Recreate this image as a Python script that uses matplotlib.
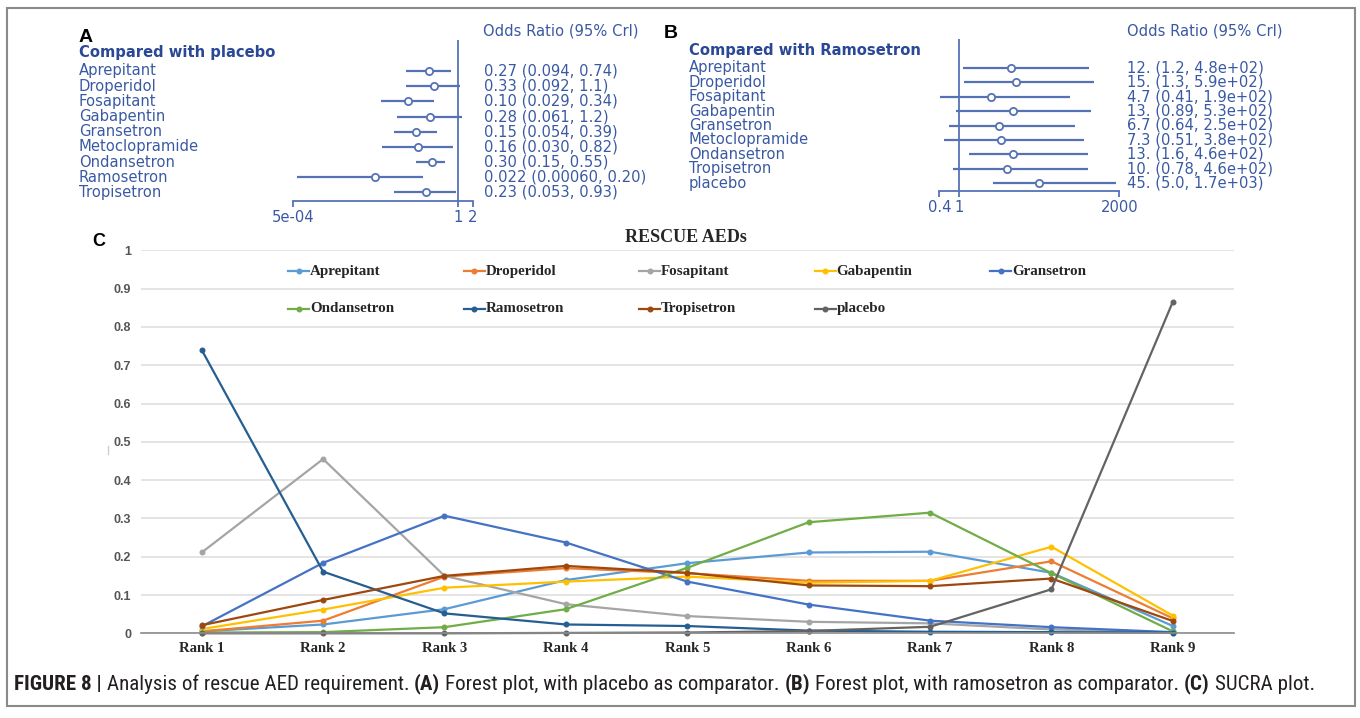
import matplotlib
matplotlib.use("Agg")
import numpy as np
import matplotlib.pyplot as plt
from matplotlib import font_manager
from matplotlib.font_manager import FontProperties
from matplotlib.lines import Line2D
from matplotlib.patches import Rectangle
from matplotlib.ticker import FixedLocator, NullLocator, FixedFormatter
from matplotlib.transforms import blended_transform_factory

W, H = 1360, 718

# ---------------- data: forest plot vs placebo ----------------
placebo_names = ["Aprepitant", "Droperidol", "Fosapitant", "Gabapentin", "Gransetron",
                 "Metoclopramide", "Ondansetron", "Ramosetron", "Tropisetron"]
placebo_or = [0.27, 0.33, 0.10, 0.28, 0.15, 0.16, 0.30, 0.022, 0.23]
placebo_lo = [0.094, 0.092, 0.029, 0.061, 0.054, 0.030, 0.15, 0.00060, 0.053]
placebo_hi = [0.74, 1.1, 0.34, 1.2, 0.39, 0.82, 0.55, 0.20, 0.93]
placebo_text = ["0.27 (0.094, 0.74)", "0.33 (0.092, 1.1)", "0.10 (0.029, 0.34)",
                "0.28 (0.061, 1.2)", "0.15 (0.054, 0.39)", "0.16 (0.030, 0.82)",
                "0.30 (0.15, 0.55)", "0.022 (0.00060, 0.20)", "0.23 (0.053, 0.93)"]
placebo_ticks = [5e-4, 1, 2]
placebo_ticklabels = ["5e-04", "1", "2"]

# ---------------- data: forest plot vs ramosetron ----------------
ramo_names = ["Aprepitant", "Droperidol", "Fosapitant", "Gabapentin", "Gransetron",
              "Metoclopramide", "Ondansetron", "Tropisetron", "placebo"]
ramo_or = [12, 15, 4.7, 13, 6.7, 7.3, 13, 10, 45]
ramo_lo = [1.2, 1.3, 0.41, 0.89, 0.64, 0.51, 1.6, 0.78, 5.0]
ramo_hi = [480, 590, 190, 530, 250, 380, 460, 460, 1700]
ramo_text = ["12. (1.2, 4.8e+02)", "15. (1.3, 5.9e+02)", "4.7 (0.41, 1.9e+02)",
             "13. (0.89, 5.3e+02)", "6.7 (0.64, 2.5e+02)", "7.3 (0.51, 3.8e+02)",
             "13. (1.6, 4.6e+02)", "10. (0.78, 4.6e+02)", "45. (5.0, 1.7e+03)"]
ramo_ticks = [0.4, 1, 2000]
ramo_ticklabels = ["0.4", "1", "2000"]

# ---------------- data: rank probabilities ----------------
ranks = ["Rank 1", "Rank 2", "Rank 3", "Rank 4", "Rank 5", "Rank 6", "Rank 7", "Rank 8", "Rank 9"]
aprepitant = [0.005, 0.023, 0.063, 0.139, 0.183, 0.211, 0.213, 0.158, 0.019]
droperidol = [0.005, 0.033, 0.148, 0.170, 0.157, 0.137, 0.137, 0.188, 0.039]
fosapitant = [0.211, 0.455, 0.150, 0.076, 0.045, 0.030, 0.026, 0.010, 0.002]
gabapentin = [0.011, 0.062, 0.119, 0.135, 0.148, 0.132, 0.137, 0.226, 0.046]
gransetron = [0.018, 0.184, 0.307, 0.237, 0.135, 0.075, 0.033, 0.016, 0.003]
ondansetron = [0.002, 0.003, 0.016, 0.063, 0.171, 0.290, 0.315, 0.157, 0.005]
ramosetron = [0.740, 0.161, 0.052, 0.023, 0.019, 0.007, 0.004, 0.003, 0.002]
tropisetron = [0.021, 0.087, 0.150, 0.176, 0.158, 0.125, 0.123, 0.143, 0.032]
placebo = [0.000, 0.000, 0.000, 0.001, 0.002, 0.006, 0.017, 0.115, 0.866]
series_names = ["Aprepitant", "Droperidol", "Fosapitant", "Gabapentin", "Gransetron",
                "Ondansetron", "Ramosetron", "Tropisetron", "placebo"]
series_values = [aprepitant, droperidol, fosapitant, gabapentin, gransetron,
                 ondansetron, ramosetron, tropisetron, placebo]
series_colors = ["#5B9BD5", "#ED7D31", "#A5A5A5", "#FFC000", "#4472C4",
                 "#70AD47", "#255E91", "#9E480E", "#636363"]
yticks = [0, 0.1, 0.2, 0.3, 0.4, 0.5, 0.6, 0.7, 0.8, 0.9, 1.0]
yticklabels = ["0", "0.1", "0.2", "0.3", "0.4", "0.5", "0.6", "0.7", "0.8", "0.9", "1"]

caption_parts = [("FIGURE 8 |", "bold"), ("Analysis of rescue AED requirement.", "normal"),
                 ("(A)", "bold"), ("Forest plot, with placebo as comparator.", "normal"),
                 ("(B)", "bold"), ("Forest plot, with ramosetron as comparator.", "normal"),
                 ("(C)", "bold"), ("SUCRA plot.", "normal")]

# ---------------- fonts ----------------
SERIF = "Liberation Serif"
SANS = "Liberation Sans"
FOREST_FONT = "DejaVu Sans"


def narrow_caption_fonts():
    """Regular and bold FontProperties for a condensed sans face, if one is installed."""
    entries = font_manager.fontManager.ttflist

    def is_narrow(e):
        key = (e.name + " " + e.fname).lower()
        return ("narrow" in key or "condensed" in key or "cond" in str(e.stretch).lower())

    def wnum(e):
        w = e.weight
        if isinstance(w, str):
            return {"bold": 700, "normal": 400, "regular": 400}.get(w.lower(), 400)
        return w

    prefs = ["liberation sans narrow", "roboto condensed", "open sans condensed",
             "noto sans", "dejavu sans", "open sans", "roboto", "liberation sans"]
    for pref in prefs:
        cands = [e for e in entries if pref.split()[0] in e.name.lower()
                 and is_narrow(e) and e.style == "normal"]
        reg = [e for e in cands if 350 <= wnum(e) <= 450]
        bld = [e for e in cands if 650 <= wnum(e) <= 750]
        if reg and bld:
            return FontProperties(fname=reg[0].fname), FontProperties(fname=bld[0].fname)
    return FontProperties(family=SANS), FontProperties(family=SANS, weight="bold")


CAP_REG, CAP_BOLD = narrow_caption_fonts()

TXT = "#3a59a3"
HEAD = "#2a4896"
LINE = "#5672b6"

fig = plt.figure(figsize=(W / 100, H / 100), dpi=100)
fig.patch.set_facecolor("white")


def fx(px):
    return px / W


def fy(py):
    return 1 - py / H


def axes_px(x0, y0, x1, y1):
    return fig.add_axes([fx(x0), fy(y1), (x1 - x0) / W, (y1 - y0) / H])


def forest(x0, x1, ytop, ybot, row0, step, xlim, ticks, ticklabels,
           names, est, lo, hi, texts, name_x, val_x):
    ax = axes_px(x0, ytop, x1, ybot)
    ax.set_xscale("log")
    ax.set_xlim(*xlim)
    ax.set_ylim((ybot - row0) / step, (ytop - row0) / step)
    ax.patch.set_alpha(0)
    for s in ["left", "right", "top"]:
        ax.spines[s].set_visible(False)
    ax.spines["bottom"].set_color(LINE)
    ax.spines["bottom"].set_linewidth(1.3)
    ax.set_yticks([])
    ax.xaxis.set_major_locator(FixedLocator(ticks))
    ax.xaxis.set_minor_locator(NullLocator())
    ax.xaxis.set_major_formatter(FixedFormatter(ticklabels))
    ax.tick_params(axis="x", direction="out", length=4.5, width=1.3, color=LINE,
                   labelcolor=TXT, labelsize=10.6, pad=2)
    for lab in ax.get_xticklabels():
        lab.set_family(FOREST_FONT)
    rows = np.arange(len(names))
    ax.axvline(1, color=LINE, lw=1.3, zorder=1)
    ax.hlines(rows, lo, hi, color=LINE, lw=1.6, zorder=2)
    ax.plot(est, rows, "o", ms=5.2, mfc="white", mec=LINE, mew=1.3, zorder=3)
    tr = blended_transform_factory(fig.transFigure, ax.transData)
    for i, (nm, tx) in enumerate(zip(names, texts)):
        ax.text(fx(name_x), i, nm, transform=tr, ha="left", va="center",
                fontsize=10.6, color=TXT, family=FOREST_FONT)
        ax.text(fx(val_x), i, tx, transform=tr, ha="left", va="center",
                fontsize=10.6, color=TXT, family=FOREST_FONT)
    return ax


# ---------------- panel A ----------------
forest(292.7, 472.7, 40, 200.7, 71, 15.17, (5e-4, 2), placebo_ticks, placebo_ticklabels,
       placebo_names, placebo_or, placebo_lo, placebo_hi, placebo_text, 79, 484)
fig.text(fx(79), fy(52), "Compared with placebo", ha="left", va="center",
         fontsize=10.6, fontweight="bold", color=HEAD, family=FOREST_FONT)
fig.text(fx(483), fy(31.5), "Odds Ratio (95% Crl)", ha="left", va="center",
         fontsize=10.6, color=TXT, family=FOREST_FONT)
fig.text(fx(79), fy(37), "A", ha="left", va="center", fontsize=14,
         fontweight="bold", color="black", family=SANS)

# ---------------- panel B ----------------
forest(939.3, 1119.3, 39, 191, 67.7, 14.45, (0.4, 2000), ramo_ticks, ramo_ticklabels,
       ramo_names, ramo_or, ramo_lo, ramo_hi, ramo_text, 689, 1127)
fig.text(fx(689), fy(50), "Compared with Ramosetron", ha="left", va="center",
         fontsize=10.6, fontweight="bold", color=HEAD, family=FOREST_FONT)
fig.text(fx(1127), fy(31.5), "Odds Ratio (95% Crl)", ha="left", va="center",
         fontsize=10.6, color=TXT, family=FOREST_FONT)
fig.text(fx(664), fy(34), "B", ha="left", va="center", fontsize=14,
         fontweight="bold", color="black", family=SANS)

# ---------------- panel C: rank probability lines ----------------
axc = axes_px(141, 250.3, 1233.6, 633.3)
x = np.arange(1, len(ranks) + 1)
axc.set_xlim(0.5, len(ranks) + 0.5)
axc.set_ylim(0, 1)
for s in ["left", "right", "top"]:
    axc.spines[s].set_visible(False)
axc.spines["bottom"].set_color("#8c8c8c")
axc.spines["bottom"].set_linewidth(1.2)
axc.set_yticks(yticks)
axc.set_yticklabels(yticklabels)
axc.set_xticks(x)
axc.set_xticklabels(ranks)
axc.grid(axis="y", color="#dcdcdc", lw=1.1)
axc.set_axisbelow(True)
axc.tick_params(axis="both", length=0)
axc.tick_params(axis="y", pad=7, labelsize=9, labelcolor="#555555")
axc.tick_params(axis="x", pad=6, labelsize=10.6, labelcolor="#262626")
for lab in axc.get_yticklabels():
    lab.set_family(SANS)
    lab.set_fontweight("bold")
for lab in axc.get_xticklabels():
    lab.set_family(SERIF)
    lab.set_fontweight("bold")

for name, vals, col in zip(series_names, series_values, series_colors):
    axc.plot(x, vals, "-o", color=col, lw=1.6, ms=3.3, label=name, clip_on=False)

# legend laid out in two rows of evenly spaced entries
leg_cols = [288, 463.5, 639, 814.5, 990]
leg_rows = [271, 309]
for k, (name, col) in enumerate(zip(series_names, series_colors)):
    r = 0 if k < 5 else 1
    c = k if k < 5 else k - 5
    lx, ly = leg_cols[c], leg_rows[r]
    fig.add_artist(Line2D([fx(lx), fx(lx + 21)], [fy(ly), fy(ly)], color=col, lw=1.6))
    fig.add_artist(Line2D([fx(lx + 10.5)], [fy(ly)], marker="o", ms=3.3, color=col))
    fig.text(fx(lx + 22), fy(ly), name, ha="left", va="center", fontsize=10.8,
             fontweight="bold", color="#262626", family=SERIF)

fig.text(fx(686), fy(237), "RESCUE AEDs", ha="center", va="center", fontsize=13,
         fontweight="bold", color="#262626", family=SERIF)
fig.text(fx(99), fy(242), "C", ha="center", va="center", fontsize=13,
         fontweight="bold", color="black", family=SANS)
fig.add_artist(Line2D([fx(108), fx(108)], [fy(446), fy(454)], color="#cfcfcf", lw=1))

# ---------------- frame ----------------
fig.add_artist(Rectangle((fx(7), fy(706)), (1355 - 7) / W, (706 - 8) / H,
                         transform=fig.transFigure, fill=False, ec="#8a8a8a", lw=1.5))

# ---------------- caption ----------------
renderer = fig.canvas.get_renderer()


def text_width(s, bold, size):
    fp = (CAP_BOLD if bold else CAP_REG).copy()
    fp.set_size(size)
    t = fig.text(0, 0, s, fontproperties=fp)
    w = t.get_window_extent(renderer).width
    t.remove()
    return w


def space_width(size):
    return text_width("x x", False, size) - text_width("xx", False, size)


def caption_width(size):
    total = sum(text_width(s, w == "bold", size) for s, w in caption_parts)
    return total + space_width(size) * (len(caption_parts) - 1)


cap_x0, cap_x1, cap_y = 14, 1312, 684
size = 11.0
size *= (cap_x1 - cap_x0) / caption_width(size)
gap = space_width(size)
xpos = cap_x0
for s, wgt in caption_parts:
    fp = (CAP_BOLD if wgt == "bold" else CAP_REG).copy()
    fp.set_size(size)
    fig.text(fx(xpos), fy(cap_y), s, ha="left", va="center", fontproperties=fp,
             color="#231f20")
    xpos += text_width(s, wgt == "bold", size) + gap

fig.savefig("out.png", dpi=100, facecolor="white")
